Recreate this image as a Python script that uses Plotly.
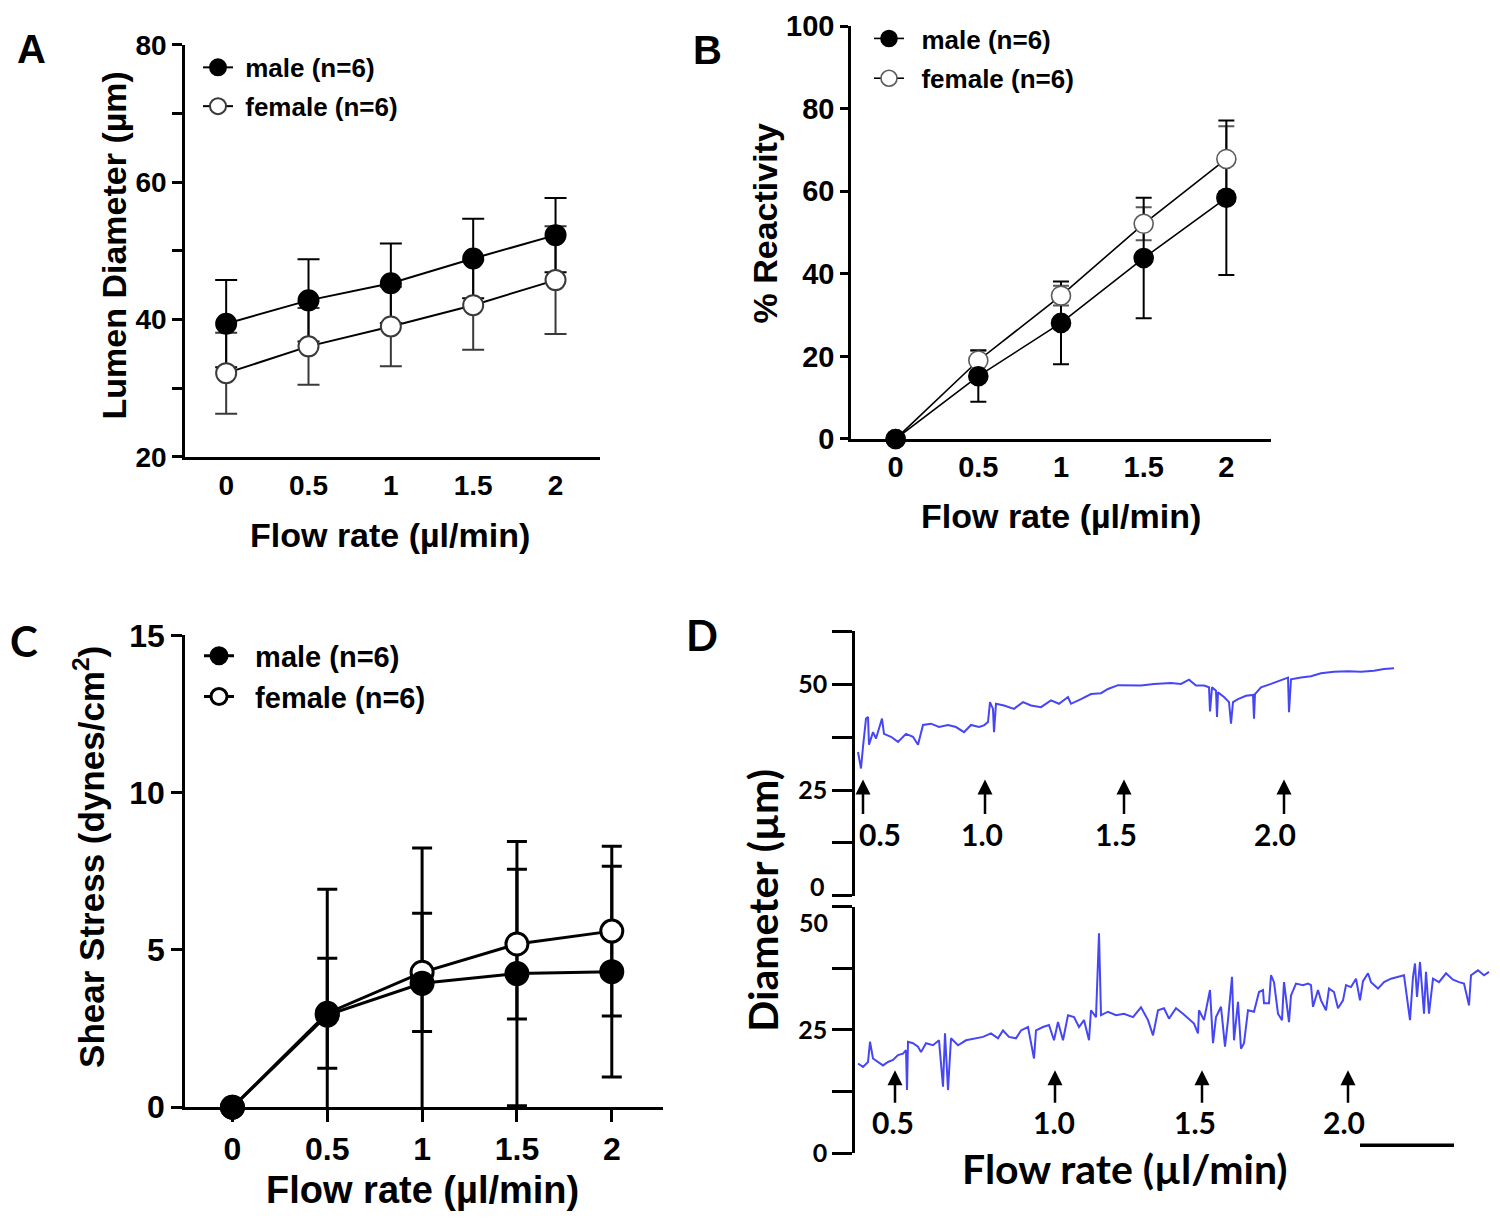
import plotly.graph_objects as go

# ---- data ----
flow = [0, 0.5, 1, 1.5, 2]

# A: lumen diameter (um)
a_male = [39.4, 42.8, 45.3, 48.9, 52.3]
a_male_sd = [6.35, 6.0, 5.8, 5.8, 5.4]
a_female = [32.2, 36.1, 39.0, 42.1, 45.75]
a_female_sd = [5.9, 5.6, 5.8, 6.5, 7.85]

# B: % reactivity
b_male = [0, 15.2, 28.1, 43.8, 58.4]
b_male_sd = [0, 6.2, 10.0, 14.6, 18.7]
b_female = [0, 19.0, 34.7, 52.1, 67.8]
b_female_sd = [0, 2.5, 2.4, 4.0, 7.9]

# C: shear stress (dynes/cm2)
c_male = [0, 2.93, 3.94, 4.25, 4.31]
c_male_sd = [0, 4.0, 4.3, 4.2, 3.35]
c_female = [0, 2.99, 4.29, 5.19, 5.60]
c_female_sd = [0, 1.75, 1.88, 2.38, 2.7]

# D: representative diameter traces (time in arbitrary units, diameter in um)
upper_t = [3, 6, 8, 11, 13, 14, 18, 21, 27, 29, 36, 43, 51, 58, 63, 68, 76, 84, 93, 101,
           109, 116, 124, 129, 133, 135, 138, 139, 141, 149, 159, 168, 176, 186, 196, 204, 213, 216, 226, 236,
           246, 253, 263, 273, 276, 286, 299, 316, 326, 334, 341, 349, 354, 355, 357, 361, 362, 363, 369, 374,
           376, 378, 383, 391, 398, 399, 400, 406, 416, 426, 433, 434, 436, 446, 456, 466, 479, 493, 506, 519,
           529, 539]
upper_d = [34.0, 30.1, 35.2, 41.9, 42.3, 35.7, 38.7, 37.2, 41.9, 38.3, 37.6, 36.4, 38.3, 37.6, 35.7, 40.4, 40.7, 39.9, 40.4, 39.9,
           38.7, 40.4, 39.9, 40.3, 41.1, 45.8, 44.2, 38.7, 45.4, 45.0, 44.2, 45.8, 45.0, 44.6, 46.2, 45.4, 47.0, 45.4, 46.5, 47.7,
           47.9, 48.9, 49.8, 49.8, 49.8, 49.7, 50.1, 50.3, 50.1, 51.1, 49.7, 49.7, 49.3, 43.6, 49.3, 48.5, 42.3, 48.1, 47.0, 45.8,
           40.7, 45.8, 46.5, 47.3, 47.5, 41.9, 47.7, 49.3, 50.1, 50.9, 51.6, 43.4, 51.2, 51.6, 51.9, 52.6, 53.0, 53.1, 53.0, 53.2,
           53.6, 53.8]

lower_t = [3, 8, 13, 15, 18, 23, 28, 33, 38, 43, 48, 51, 52, 53, 58, 63, 66, 71, 78, 84,
           88, 90, 93, 96, 103, 111, 119, 128, 136, 143, 148, 154, 161, 166, 173, 179, 181, 188, 194, 199,
           203, 208, 213, 219, 224, 229, 234, 236, 241, 244, 246, 253, 261, 269, 278, 286, 293, 298, 303, 309,
           314, 321, 328, 334, 339, 343, 344, 349, 355, 358, 361, 366, 370, 373, 377, 379, 383, 386, 389, 393,
           399, 404, 408, 409, 414, 416, 419, 423, 427, 429, 431, 434, 436, 441, 448, 453, 456, 458, 463, 466,
           471, 474, 479, 483, 488, 491, 496, 501, 505, 508, 513, 516, 523, 529, 536, 543, 549, 555, 558, 560,
           562, 565, 569, 571, 574, 578, 584, 591, 598, 604, 609, 614, 616, 623, 629, 634]
lower_d = [18.2, 17.5, 18.5, 22.6, 19.2, 18.5, 17.8, 18.5, 18.9, 19.9, 20.2, 20.9, 12.8, 22.6, 22.3, 21.6, 20.5, 22.3, 21.9, 22.9,
           13.5, 24.3, 12.8, 23.3, 21.9, 22.9, 23.3, 23.6, 24.3, 23.3, 24.9, 23.6, 23.3, 24.9, 25.6, 19.2, 24.9, 25.6, 26.0, 22.9,
           26.6, 22.9, 28.0, 27.6, 25.6, 27.0, 22.9, 29.0, 27.6, 44.6, 28.0, 28.7, 28.0, 28.3, 27.6, 29.6, 27.0, 23.9, 29.0, 29.4,
           27.3, 29.4, 28.3, 27.3, 26.3, 24.3, 29.0, 27.0, 33.1, 22.3, 27.6, 29.7, 21.6, 27.0, 35.8, 22.9, 30.7, 21.2, 22.3, 29.0,
           28.7, 32.7, 33.1, 30.4, 30.4, 36.1, 34.7, 28.3, 27.0, 34.7, 31.7, 26.6, 32.0, 34.4, 34.1, 34.4, 34.1, 29.7, 33.1, 31.0,
           29.0, 33.4, 32.7, 29.4, 31.0, 34.1, 33.7, 35.4, 31.0, 34.9, 36.5, 34.7, 33.4, 34.7, 35.4, 35.8, 36.1, 27.0, 35.8, 38.5,
           31.7, 38.8, 28.3, 36.8, 28.3, 35.4, 34.7, 36.5, 35.2, 34.7, 34.4, 30.0, 36.1, 37.1, 36.1, 36.8]

upper_arrows = [8, 130, 269, 429]
lower_arrows = [40, 200, 347, 493]
arrow_labels = ['0.5', '1.0', '1.5', '2.0']
upper_label_t = [25, 127, 261, 420]
lower_label_t = [38, 199, 340, 489]

ARIAL = "Liberation Sans"
CALI = "Lato"
TRACE_BLUE = "#4646f5"
NB = '\u00a0'

fig = go.Figure()


def add_group(xa, ya, male, male_sd, female, female_sd, legend, lw, msize, cap, fem_col, err_w, pad):
    # error bars first (clipped to the plot area), then lines + markers on top
    fig.add_trace(go.Scatter(x=flow, y=female, mode='markers', marker=dict(size=1, opacity=0),
                             error_y=dict(type='data', array=female_sd, color=fem_col, thickness=err_w, width=cap),
                             xaxis=xa, yaxis=ya, showlegend=False, hoverinfo='skip'))
    fig.add_trace(go.Scatter(x=flow, y=male, mode='markers', marker=dict(size=1, opacity=0),
                             error_y=dict(type='data', array=male_sd, color='black', thickness=err_w, width=cap),
                             xaxis=xa, yaxis=ya, showlegend=False, hoverinfo='skip'))
    fig.add_trace(go.Scatter(x=flow, y=female, mode='lines+markers', name=pad + 'female (n=6)',
                             line=dict(color='black', width=lw),
                             marker=dict(symbol='circle', size=msize, color='white',
                                         line=dict(color=fem_col, width=lw)),
                             xaxis=xa, yaxis=ya, legend=legend, legendgroup=legend + 'f',
                             legendrank=2, cliponaxis=False))
    fig.add_trace(go.Scatter(x=flow, y=male, mode='lines+markers', name=pad + 'male (n=6)',
                             line=dict(color='black', width=lw),
                             marker=dict(symbol='circle', size=msize, color='black',
                                         line=dict(color='black', width=lw)),
                             xaxis=xa, yaxis=ya, legend=legend, legendgroup=legend + 'm',
                             legendrank=1, cliponaxis=False))


add_group('x', 'y', a_male, a_male_sd, a_female, a_female_sd, 'legend', 2, 20, 11, '#3a3a3a', 2, NB)
add_group('x2', 'y2', b_male, b_male_sd, b_female, b_female_sd, 'legend2', 1.6, 19, 8, '#5a5a5a', 2,
          NB + '\u2009')
add_group('x3', 'y3', c_male, c_male_sd, c_female, c_female_sd, 'legend3', 3, 22, 10, 'black', 3, NB + NB)

# D traces
fig.add_trace(go.Scatter(x=upper_t, y=upper_d, mode='lines', line=dict(color=TRACE_BLUE, width=2),
                         xaxis='x4', yaxis='y4', showlegend=False))
fig.add_trace(go.Scatter(x=lower_t, y=lower_d, mode='lines', line=dict(color=TRACE_BLUE, width=2),
                         xaxis='x5', yaxis='y5', showlegend=False))


# page positions (pixels) -> paper fractions
def W(px):
    return (px - 7) / 1500


def H(py):
    return 1 - ((py - 23) / 0.973) / 1222


def HD(py):
    return min(1.0, max(0.0, H(py)))


tickfont = dict(family=ARIAL, size=28, color='black', weight='bold')
common_x = dict(showgrid=False, zeroline=False, showline=True, linecolor='black', linewidth=2.5,
                ticks='outside', ticklen=2, tickcolor='rgba(0,0,0,0)', tickvals=flow,
                ticktext=['0', '0.5', '1', '1.5', '2'], tickfont=tickfont)
common_y = dict(showgrid=False, zeroline=False, showline=True, linecolor='black', linewidth=2.5,
                ticks='outside', tickcolor='black', tickwidth=2.5, tickfont=tickfont)
dfont = dict(family=CALI, size=25, color='black', weight='bold')

fig.update_layout(
    width=1500, height=1222, margin=dict(l=0, r=0, t=0, b=0),
    paper_bgcolor='white', plot_bgcolor='white',
    xaxis=dict(common_x, domain=[W(184), W(599)], range=[-0.25, 2.27], anchor='y'),
    yaxis=dict(common_y, domain=[HD(455), HD(42)], range=[20, 80], anchor='x', ticklen=10,
               tickvals=[20, 30, 40, 50, 60, 70, 80], ticktext=['20', '', '40', '', '60', '', '80']),
    xaxis2=dict(common_x, domain=[W(850), W(1270)], range=[-0.27, 2.27], anchor='y2', ticklen=0,
                tickfont=dict(tickfont, size=29)),
    yaxis2=dict(common_y, domain=[HD(437), HD(21)], range=[0, 100], anchor='x2', ticklen=8,
                tickvals=[0, 20, 40, 60, 80, 100], tickfont=dict(tickfont, size=29)),
    xaxis3=dict(common_x, domain=[W(184), W(662)], range=[-0.25, 2.27], anchor='y3',
                ticklen=12, tickwidth=2.5, tickcolor='black', tickfont=dict(tickfont, size=32)),
    yaxis3=dict(common_y, domain=[HD(1107), HD(634)], range=[0, 15], anchor='x3', ticklen=11,
                tickvals=[0, 5, 10, 15], tickfont=dict(tickfont, size=32)),
    xaxis4=dict(domain=[W(854), W(1490)], range=[0, 636], anchor='y4', visible=False),
    yaxis4=dict(domain=[HD(895), HD(630)], range=[0, 62.5], anchor='x4', showgrid=False, zeroline=False,
                showline=True, linecolor='black', linewidth=2.5, ticks='outside', ticklen=20, tickwidth=2.5,
                tickcolor='black', tickvals=[0, 12.5, 25, 37.5, 50, 62.5],
                ticktext=['', '', '25', '', '50', ''], tickfont=dfont),
    xaxis5=dict(domain=[W(854), W(1490)], range=[0, 636], anchor='y5', visible=False),
    yaxis5=dict(domain=[HD(1153), HD(906)], range=[0, 50], anchor='x5', showgrid=False, zeroline=False,
                showline=True, linecolor='black', linewidth=2.5, ticks='outside', ticklen=20, tickwidth=2.5,
                tickcolor='black', tickvals=[0, 12.5, 25, 37.5, 50],
                ticktext=['0', '', '25', '', ''], tickfont=dfont),
    legend=dict(x=W(197), y=H(41), xanchor='left', yanchor='top', bgcolor='rgba(0,0,0,0)',
                font=dict(family=ARIAL, size=26, color='black', weight='bold'), itemwidth=30,
                tracegroupgap=2),
    legend2=dict(x=W(868), y=H(12), xanchor='left', yanchor='top', bgcolor='rgba(0,0,0,0)',
                 font=dict(family=ARIAL, size=26, color='black', weight='bold'), itemwidth=30,
                 tracegroupgap=3),
    legend3=dict(x=W(198), y=H(629), xanchor='left', yanchor='top', bgcolor='rgba(0,0,0,0)',
                 font=dict(family=ARIAL, size=29, color='black', weight='bold'), itemwidth=30,
                 tracegroupgap=0),
)

ann = []


def text(x, y, s, size, family=ARIAL, angle=0, xanchor='center'):
    ann.append(dict(x=W(x), y=H(y), xref='paper', yref='paper', text=s, showarrow=False,
                    textangle=angle, xanchor=xanchor, yanchor='middle',
                    font=dict(family=family, size=size, color='black', weight='bold')))


# panel letters
text(30, 46, 'A', 40)
text(706, 47, 'B', 40)
text(23, 640, 'C', 42, family=CALI)
text(701, 634, 'D', 42, family=CALI)

# axis titles
text(389, 533, 'Flow rate (µl/min)', 34)
text(113, 243, 'Lumen Diameter (µm)', 34, angle=-90)
text(1060, 514, 'Flow rate (µl/min)', 34)
text(764, 221, '% Reactivity', 34, angle=-90)
text(421, 1190, 'Flow rate (µl/min)', 38)
text(88, 856, 'Shear Stress (dynes/cm<sup>2</sup>)', 35, angle=-90)
text(1124, 1168, 'Flow rate (µl/min)', 41, family=CALI)
text(762, 900, 'Diameter (µm)', 41, family=CALI, angle=-90)

# shifted tick labels of D
text(826, 885, '0', 25, family=CALI, xanchor='right')
text(829, 921, '50', 25, family=CALI, xanchor='right')

# flow-step arrows and labels
for t, lab_t, lab in zip(upper_arrows, upper_label_t, arrow_labels):
    ann.append(dict(x=t, y=27.5, xref='x4', yref='y4', ax=0, ay=36, text='', showarrow=True,
                    arrowhead=2, arrowsize=1.2, arrowwidth=2.5, arrowcolor='black'))
    ann.append(dict(x=lab_t, y=14.6, xref='x4', yref='y4', text=lab, showarrow=False,
                    font=dict(family=CALI, size=30, color='black', weight='bold')))
for t, lab_t, lab in zip(lower_arrows, lower_label_t, arrow_labels):
    ann.append(dict(x=t, y=16.8, xref='x5', yref='y5', ax=0, ay=34, text='', showarrow=True,
                    arrowhead=2, arrowsize=1.2, arrowwidth=2.5, arrowcolor='black'))
    ann.append(dict(x=lab_t, y=6.3, xref='x5', yref='y5', text=lab, showarrow=False,
                    font=dict(family=CALI, size=30, color='black', weight='bold')))

fig.update_layout(annotations=ann)

# time scale bar
fig.add_shape(type='line', xref='x5', yref='y5', x0=505, x1=599, y0=1.6, y1=1.6,
              line=dict(color='black', width=3.5))

fig.write_html("out.html")
